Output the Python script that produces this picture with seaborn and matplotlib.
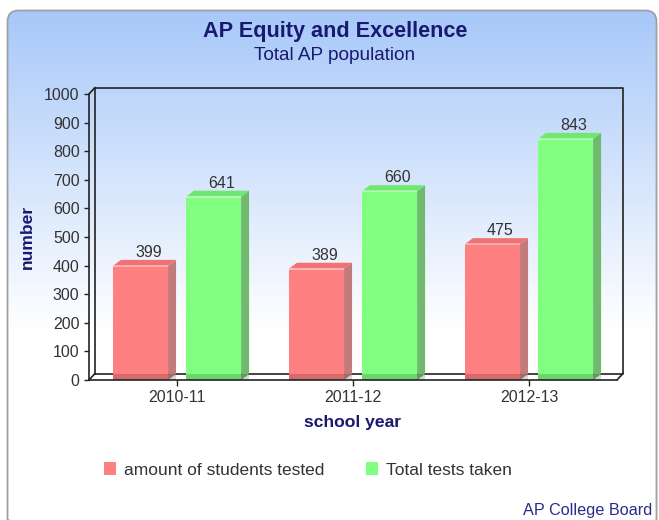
import numpy as np
import pandas as pd
import matplotlib
matplotlib.use("Agg")
import matplotlib.pyplot as plt
import seaborn as sns
from matplotlib.patches import Polygon, Rectangle, FancyBboxPatch, Patch
from matplotlib.lines import Line2D

# ---------------- data ----------------
years = ["2010-11", "2011-12", "2012-13"]
students_tested = [399, 389, 475]
tests_taken = [641, 660, 843]
series_names = ["amount of students tested", "Total tests taken"]
y_ticks = [0, 100, 200, 300, 400, 500, 600, 700, 800, 900, 1000]

title_text = "AP Equity and Excellence"
subtitle_text = "Total AP population"
x_label = "school year"
y_label = "number"
credits_text = "AP College Board"

# ---------------- style ----------------
W, H, DPI = 659, 520, 100
RED, RED_SIDE, RED_TOP = "#ff8080", "#c27b7b", "#f07272"
GREEN, GREEN_SIDE, GREEN_TOP = "#80ff80", "#6fba6f", "#6ee86e"
NAVY = "#191970"
TXT = "#333333"

sns.set_theme(style="white")
plt.rcParams["font.family"] = ["Liberation Sans", "DejaVu Sans"]

fig = plt.figure(figsize=(W / DPI, H / DPI), dpi=DPI)
fig.patch.set_facecolor("white")

# ---------------- background (gradient, rounded frame) ----------------
bg = fig.add_axes([0, 0, 1, 1])
bg.set_xlim(0, W)
bg.set_ylim(H, 0)
bg.axis("off")
ys = np.arange(10, H + 1)
t = np.clip((ys - 10) / 320.0, 0, 1)[:, None]
top_c = np.array([0.655, 0.784, 0.976])
img = (top_c * (1 - t) + np.ones(3) * t)[:, None, :]
im = bg.imshow(img, extent=(7, 657, H, 10), aspect="auto", interpolation="bilinear", zorder=0)
box = FancyBboxPatch((7.5, 10.5), 649, 520, boxstyle="round,pad=0,rounding_size=11",
                     fc="none", ec="#a0a0a0", lw=1.3, zorder=2)
bg.add_patch(box)
im.set_clip_path(box)

# ---------------- main axes ----------------
L, R, T, B = 89, 617, 94, 380
ax = fig.add_axes([L / W, (H - B) / H, (R - L) / W, (B - T) / H])
ax.set_facecolor("none")
for s in ax.spines.values():
    s.set_visible(False)

df = pd.DataFrame({
    "year": years * 2,
    "value": students_tested + tests_taken,
    "series": [series_names[0]] * len(years) + [series_names[1]] * len(years),
})
sns.barplot(data=df, x="year", y="value", hue="series", palette=[RED, GREEN],
            width=0.83, gap=0.245, saturation=1, legend=False, ax=ax,
            linewidth=0, zorder=3)
ax.set_xlim(-0.5, len(years) - 0.5)
ax.set_ylim(0, 1000)
ax.set_yticks(y_ticks)
ax.set_xticks(range(len(years)))
ax.set_xticklabels(years)

ax_w_px = (R - L)
ax_h_px = (B - T)
px_x = ax_w_px / (len(years))      # pixels per x data unit
px_y = ax_h_px / 1000.0            # pixels per y data unit
ddx, ddy = 8 / px_x, 6 / px_y      # bar depth in data units

for p in list(ax.patches):
    x0, w, h = p.get_x(), p.get_width(), p.get_height()
    x1 = x0 + w
    fc = p.get_facecolor()
    is_red = fc[1] < 0.7
    side_c = RED_SIDE if is_red else GREEN_SIDE
    top_col = RED_TOP if is_red else GREEN_TOP
    ax.add_patch(Polygon([(x1, 0), (x1 + ddx, ddy), (x1 + ddx, h + ddy), (x1, h)],
                         closed=True, fc=side_c, ec="none", zorder=3))
    ax.add_patch(Polygon([(x0, h), (x1, h), (x1 + ddx, h + ddy), (x0 + ddx, h + ddy)],
                         closed=True, fc=top_col, ec="none", zorder=3))
    ax.plot([x0, x1], [h, h], color="white", alpha=0.45, lw=1.2, zorder=3.5,
            solid_capstyle="butt")
    ax.add_patch(Rectangle((x0, 0), w + ddx, ddy, fc="black", alpha=0.16, ec="none", zorder=3.6))
    ax.text(x0 + w / 2 + ddx, h + ddy, f"{int(round(h))}", ha="center", va="bottom",
            fontsize=11.5, color=TXT, zorder=6)

# ---------------- 3D frame ----------------
fdx, fdy = 6 / ax_w_px, 6.5 / ax_h_px
tr = ax.transAxes
ax.add_patch(Polygon([(0, 0), (1, 0), (1 + fdx, fdy), (fdx, fdy)], closed=True,
                     transform=tr, fc="white", ec="none", zorder=1, clip_on=False))
back = [(fdx, fdy), (fdx, 1 + fdy), (1 + fdx, 1 + fdy), (1 + fdx, fdy), (fdx, fdy)]
ax.add_line(Line2D([q[0] for q in back], [q[1] for q in back], transform=tr,
                   color="#222222", lw=1.2, zorder=2, clip_on=False))
front_lines = [
    [(0, 0), (0, 1)],
    [(0, 0), (1, 0)],
    [(0, 1), (fdx, 1 + fdy)],
    [(0, 0), (fdx, fdy)],
    [(1, 0), (1 + fdx, fdy)],
]
for seg in front_lines:
    ax.add_line(Line2D([seg[0][0], seg[1][0]], [seg[0][1], seg[1][1]], transform=tr,
                       color="#222222", lw=1.2, zorder=5, clip_on=False))

ax.tick_params(axis="y", left=True, length=3.8, width=1, color="#222222", pad=3,
               labelsize=11.5, labelcolor=TXT, direction="out")
ax.tick_params(axis="x", bottom=True, length=4.3, width=1, color="#222222", pad=3,
               labelsize=11.5, labelcolor=TXT, direction="out")
ax.grid(False)

ax.set_xlabel(x_label, fontsize=12.6, fontweight="bold", color=NAVY)
ax.xaxis.set_label_coords(0.5, -(415 - B) / ax_h_px)
ax.set_ylabel(y_label, fontsize=12.6, fontweight="bold", color=NAVY, va="center")
ax.yaxis.set_label_coords((27 - L) / ax_w_px, (B - 237) / ax_h_px)

# ---------------- titles, legend, credits ----------------
fig.text(335.5 / W, 1 - 37 / H, title_text, ha="center", va="baseline",
         fontsize=15.6, fontweight="bold", color=NAVY)
fig.text(334.5 / W, 1 - 60 / H, subtitle_text, ha="center", va="baseline",
         fontsize=13.7, color=NAVY)

handles = [Patch(fc=RED, ec="none"), Patch(fc=GREEN, ec="none")]
fig.legend(handles, series_names, loc="center", bbox_to_anchor=(308 / W, 1 - 470 / H),
           ncol=2, frameon=False, fontsize=12.5, handlelength=0.7, handleheight=0.7,
           handletextpad=0.45, columnspacing=2.4, labelcolor=TXT)

fig.text(652 / W, 1 - 515 / H, credits_text, ha="right", va="baseline",
         fontsize=11.7, color="#2b2b8c")

fig.savefig("out.png", dpi=DPI)
